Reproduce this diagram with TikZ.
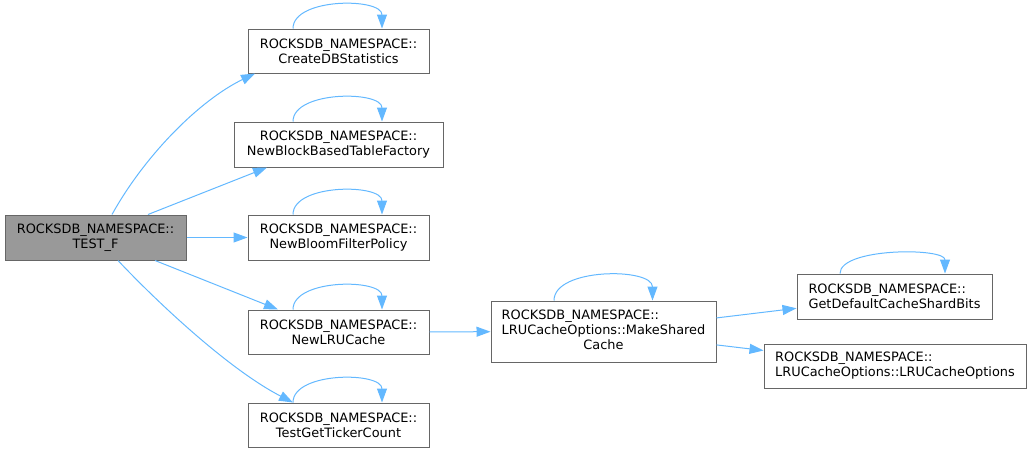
\documentclass[tikz,border=0pt]{standalone}
\usepackage{fontspec}
\setmainfont{DejaVu Sans}
\usetikzlibrary{arrows.meta}

\definecolor{callblue}{HTML}{63B8FF}
\definecolor{boxgray}{HTML}{666666}
\definecolor{rootgray}{HTML}{999999}

\begin{document}
\begin{tikzpicture}[x=1pt, y=-1pt,
    >={Triangle[length=14pt, width=10pt]},
    fnbox/.style={draw=boxgray, line width=1pt, fill=white, inner sep=0pt,
      align=center, font=\fontsize{12.9}{15}\selectfont},
    rootbox/.style={fnbox, fill=rootgray},
    callline/.style={->, draw=callblue, line width=1pt},
    selfloop/.style={callline,
      to path={.. controls +(0pt,#1) and +(0pt,#1) .. (\tikztotarget)}},
    selfloop/.default=31pt]
  \useasboundingbox (0,0) rectangle (1031,453);

  % Caller
  \node[rootbox, minimum width=181, minimum height=45] (testf) at (95.5,237.5)
    {ROCKSDB\_NAMESPACE::\\TEST\_F};

  % Direct callees
  \node[fnbox, minimum width=181, minimum height=44] (createdbstats) at (338.5,51)
    {ROCKSDB\_NAMESPACE::\\CreateDBStatistics};
  \node[fnbox, minimum width=209, minimum height=45] (newbbtf) at (338.5,144.5)
    {ROCKSDB\_NAMESPACE::\\NewBlockBasedTableFactory};
  \node[fnbox, minimum width=181, minimum height=45] (newbloom) at (338.5,237.5)
    {ROCKSDB\_NAMESPACE::\\NewBloomFilterPolicy};
  \node[fnbox, minimum width=181, minimum height=44] (newlru) at (338.5,332)
    {ROCKSDB\_NAMESPACE::\\NewLRUCache};
  \node[fnbox, minimum width=181, minimum height=44] (testgettc) at (338.5,425)
    {ROCKSDB\_NAMESPACE::\\TestGetTickerCount};

  % Cache helpers
  \node[fnbox, minimum width=225, minimum height=61] (makeshared) at (603.5,331.5)
    {\begin{tabular}{@{}l@{}}ROCKSDB\_NAMESPACE::\\LRUCacheOptions::MakeShared\\
      \multicolumn{1}{@{}c@{}}{Cache}\end{tabular}};
  \node[fnbox, align=left, minimum width=195, minimum height=45] (getdefshard) at (894.5,296.5)
    {ROCKSDB\_NAMESPACE::\\GetDefaultCacheShardBits};
  \node[fnbox, align=left, minimum width=262, minimum height=44] (lruopts) at (895,366)
    {ROCKSDB\_NAMESPACE::\\LRUCacheOptions::LRUCacheOptions};

  % Calls from TEST_F
  \draw[callline] ([xshift=16.5pt]testf.north)
    .. controls (145,155) and (200,100) .. ([xshift=-83.5pt]createdbstats.south);
  \draw[callline] ([xshift=52.5pt]testf.north) -- ([xshift=-71.5pt]newbbtf.south);
  \draw[callline] (testf) -- (newbloom);
  \draw[callline] ([xshift=59.5pt]testf.south) -- ([xshift=-60.5pt]newlru.north);
  \draw[callline] ([xshift=22.5pt]testf.south)
    .. controls (160,305) and (230,370) .. ([xshift=-45.5pt]testgettc.north);

  % Further calls
  \draw[callline] (newlru) -- (makeshared);
  \draw[callline] (makeshared) -- (getdefshard);
  \draw[callline] (makeshared) -- (lruopts);

  % Recursive calls
  \foreach \fn in {createdbstats, newbbtf, newbloom, newlru, testgettc}
    \draw[selfloop] ([xshift=-45.5pt]\fn.north) to ([xshift=43.5pt]\fn.north);
  \draw[selfloop=33pt] ([xshift=-49.5pt]makeshared.north) to ([xshift=49pt]makeshared.north);
  \draw[selfloop=26pt] ([xshift=-54.5pt]getdefshard.north) to ([xshift=50.5pt]getdefshard.north);
\end{tikzpicture}
\end{document}
